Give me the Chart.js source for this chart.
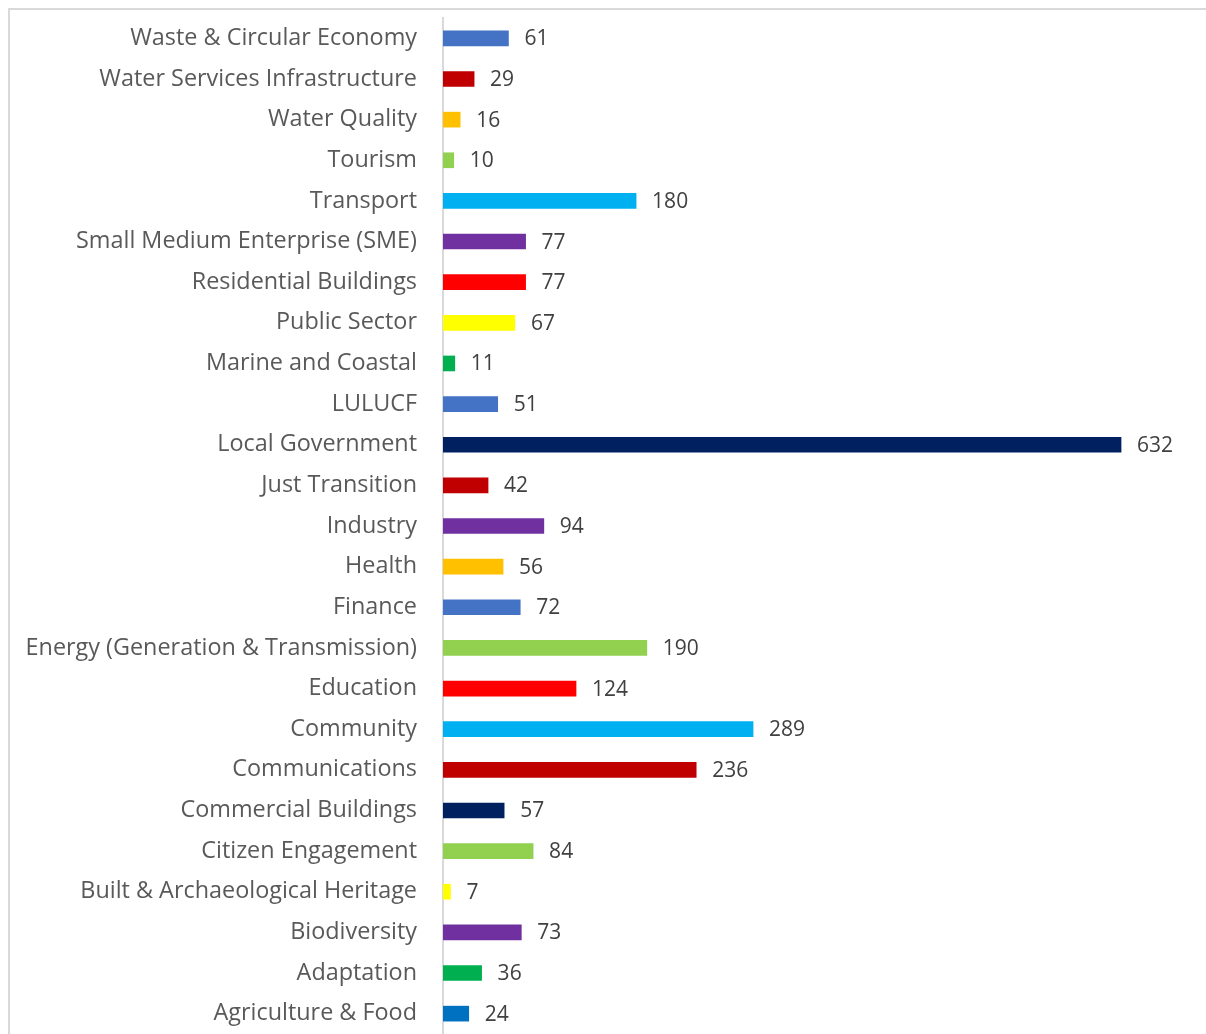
<!DOCTYPE html>
<html>
<head>
<meta charset="utf-8">
<script src="https://cdn.jsdelivr.net/npm/chart.js@4/dist/chart.umd.min.js"></script>
<style>
  html, body { margin: 0; padding: 0; background: #ffffff; }
  #wrap { position: relative; width: 1206px; height: 1034px; overflow: hidden; }
  #frame { position: absolute; left: 8px; top: 8px; width: 1400px; height: 1200px; border-top: 2px solid #d9d9d9; border-left: 2px solid #d9d9d9; box-sizing: border-box; }
  canvas { position: absolute; left: 0; top: -22px; }
</style>
</head>
<body>
<div id="wrap">
  <div id="frame"></div>
  <canvas id="c" width="1206" height="1096"></canvas>
</div>
<script>
const categories = [
  "Waste & Circular Economy",
  "Water Services Infrastructure",
  "Water Quality",
  "Tourism",
  "Transport",
  "Small Medium Enterprise (SME)",
  "Residential Buildings",
  "Public Sector",
  "Marine and Coastal",
  "LULUCF",
  "Local Government",
  "Just Transition",
  "Industry",
  "Health",
  "Finance",
  "Energy (Generation & Transmission)",
  "Education",
  "Community",
  "Communications",
  "Commercial Buildings",
  "Citizen Engagement",
  "Built & Archaeological Heritage",
  "Biodiversity",
  "Adaptation",
  "Agriculture & Food"
];
const values = [61, 29, 16, 10, 180, 77, 77, 67, 11, 51, 632, 42, 94, 56, 72, 190, 124, 289, 236, 57, 84, 7, 73, 36, 24];
const barColors = [
  "#4472C4", "#C00000", "#FFC000", "#92D050", "#00B0F0", "#7030A0", "#FF0000", "#FFFF00", "#00B050", "#4472C4",
  "#002060", "#C00000", "#7030A0", "#FFC000", "#4472C4", "#92D050", "#FF0000", "#00B0F0", "#C00000", "#002060",
  "#92D050", "#FFFF00", "#7030A0", "#00B050", "#0070C0"
];

const FONT = "'Open Sans', sans-serif";

const valueLabels = {
  id: 'valueLabels',
  afterDatasetsDraw(chart) {
    const ctx = chart.ctx;
    const meta = chart.getDatasetMeta(0);
    ctx.save();
    ctx.font = "21px " + FONT;
    ctx.fillStyle = "#404040";
    ctx.textAlign = "left";
    ctx.textBaseline = "middle";
    meta.data.forEach((bar, i) => {
      ctx.fillText(String(values[i]), bar.x + 16, bar.y + 1);
    });
    ctx.restore();
  }
};

new Chart(document.getElementById('c'), {
  type: 'bar',
  data: {
    labels: categories,
    datasets: [{
      data: values,
      backgroundColor: barColors,
      borderWidth: 0,
      barThickness: 15
    }]
  },
  options: {
    indexAxis: 'y',
    responsive: false,
    animation: false,
    events: [],
    layout: { padding: { top: 16.7, bottom: 0.7, left: 0, right: 12 } },
    plugins: { legend: { display: false }, tooltip: { enabled: false } },
    scales: {
      x: { display: false, min: 0, max: 700 },
      y: {
        afterFit(scale) { scale.width = 443; },
        grid: { display: false, drawTicks: false },
        border: { display: true, color: "#d9d9d9", width: 2 },
        ticks: { padding: 26, color: "#595959", font: { family: FONT, size: 23.4 } }
      }
    }
  },
  plugins: [valueLabels]
});
</script>
</body>
</html>
